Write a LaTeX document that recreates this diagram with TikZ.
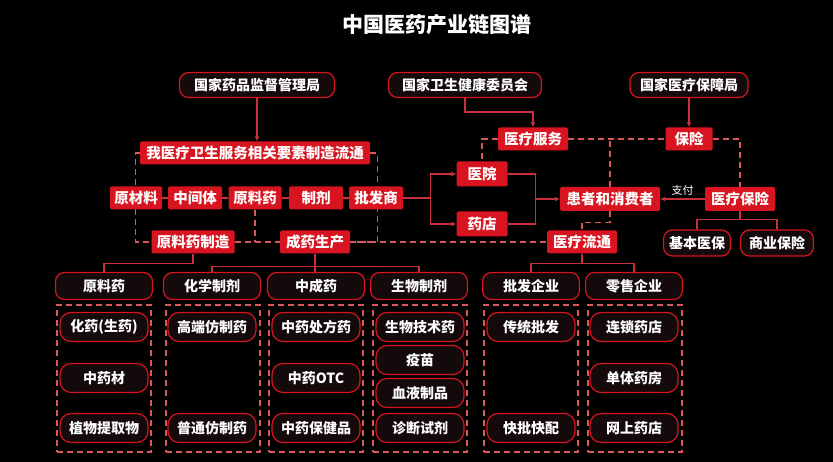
\documentclass[tikz,border=0pt]{standalone}
\usepackage{fontspec}
\setmainfont{Noto Sans CJK SC}
\usetikzlibrary{positioning}
\usetikzlibrary{arrows.meta}
\pgfdeclarelayer{bg}
\pgfsetlayers{bg,main}
\definecolor{hired}{HTML}{D7141F}
\definecolor{linered}{HTML}{C9303A}
\definecolor{dashred}{HTML}{D9585C}
\definecolor{darkfill}{HTML}{140A0B}
\tikzset{
	redbox/.style={fill=hired, text=white, font=\bfseries\fontsize{14.5}{16}\selectfont, inner sep=0pt, minimum height=23, rounded corners=1.5},
	roundbox/.style={draw=hired, line width=1.2pt, fill=darkfill, text=white, font=\bfseries\fontsize{14}{16}\selectfont, inner sep=0pt, rounded corners=9},
	catbox/.style={roundbox, minimum width=97, minimum height=27},
	itembox/.style={roundbox, minimum width=88, minimum height=29, rounded corners=11},
	groupbox/.style={draw=dashred, line width=1.2pt, dash pattern=on 6pt off 4pt, minimum width=94, minimum height=147, inner sep=0pt},
	link/.style={draw=linered, line width=1.2pt},
	dlink/.style={draw=dashred, line width=1.2pt, dash pattern=on 6pt off 4pt},
	arr/.style={link, -{Latex[length=5pt,width=5pt]}}
}

\begin{document}
\begin{tikzpicture}[x=1pt, y=-1pt]
	\useasboundingbox (0,0) rectangle (833,462);
	\node [text=white, font=\bfseries\fontsize{21}{24}\selectfont] (title) at (437,25) {中国医药产业链图谱};

	\node [roundbox, minimum width=155, minimum height=25] (nmpa) at (257,85) {国家药品监督管理局};
	\node [roundbox, minimum width=153, minimum height=25] (nhc) at (465,85) {国家卫生健康委员会};
	\node [roundbox, minimum width=118, minimum height=25] (nhsa) at (689,85) {国家医疗保障局};

	\node [redbox, minimum width=230] (chain) at (255,153) {我医疗卫生服务相关要素制造流通};
	\node [redbox, minimum width=70] (service) at (533,139) {医疗服务};
	\node [redbox, minimum width=47] (insure) at (689,139) {保险};
	\node [redbox, minimum width=52] (rawmat) at (136,198) {原材料};
	\node [redbox, minimum width=54] (inter) at (195,198) {中间体};
	\node [redbox, minimum width=53] (api) at (255,198) {原料药};
	\node [redbox, minimum width=54] (prep) at (316,198) {制剂};
	\node [redbox, minimum width=54] (whole) at (376,198) {批发商};
	\node [redbox, minimum width=51, minimum height=25] (hosp) at (482,174) {医院};
	\node [redbox, minimum width=51, minimum height=25] (pharm) at (482,224) {药店};
	\node [redbox, minimum width=100, minimum height=24] (patient) at (610,199) {患者和消费者};
	\node [redbox, minimum width=70, minimum height=24] (medins) at (740,199) {医疗保险};
	\node [redbox, minimum width=83] (apimake) at (193,242) {原料药制造};
	\node [redbox, minimum width=70] (drugmake) at (315,242) {成药生产};
	\node [redbox, minimum width=70] (circ) at (582,242) {医疗流通};
	\node [roundbox, minimum width=67, minimum height=26] (basic) at (697,243) {基本医保};
	\node [roundbox, minimum width=73, minimum height=26] (commer) at (777,243) {商业保险};

	\node [catbox] (catapi) at (104,286) {原料药};
	\node [catbox] (catchem) at (212,286) {化学制剂};
	\node [catbox] (cattcm) at (316,286) {中成药};
	\node [catbox] (catbio) at (419,286) {生物制剂};
	\node [catbox] (catwhole) at (531,286) {批发企业};
	\node [catbox] (catretail) at (634,286) {零售企业};

	\node [groupbox] (grpapi) at (104,378.5) {};
	\node [groupbox] (grpchem) at (213,378.5) {};
	\node [groupbox] (grptcm) at (316,378.5) {};
	\node [groupbox] (grpbio) at (420,378.5) {};
	\node [groupbox] (grpwhole) at (531,378.5) {};
	\node [groupbox] (grpretail) at (635,378.5) {};

	\node [itembox] (chemdrug) at (104,327) {化药(生药)};
	\node [itembox] (herb) at (104,378) {中药材};
	\node [itembox] (extract) at (104,428) {植物提取物};
	\node [itembox] (hiendgen) at (212,327) {高端仿制药};
	\node [itembox] (commgen) at (212,428) {普通仿制药};
	\node [itembox] (tcmrx) at (316,327) {中药处方药};
	\node [itembox] (tcmotc) at (316,378) {中药OTC};
	\node [itembox] (tcmhealth) at (316,428) {中药保健品};
	\node [itembox] (biotech) at (420,327) {生物技术药};
	\node [itembox] (vaccine) at (420,360) {疫苗};
	\node [itembox] (blood) at (420,393) {血液制品};
	\node [itembox] (diag) at (420,428) {诊断试剂};
	\node [itembox] (tradwhole) at (531,327) {传统批发};
	\node [itembox] (fastwhole) at (531,428) {快批快配};
	\node [itembox] (chainstore) at (634,327) {连锁药店};
	\node [itembox] (singlestore) at (634,378) {单体药房};
	\node [itembox] (onlinestore) at (634,428) {网上药店};

	\begin{pgfonlayer}{bg}
		\fill [black] (0,0) rectangle (833,462);
		\draw [arr] (nmpa.south) -- (nmpa.south |- chain.north);
		\draw [arr] (nhc.south) -- ++(0,14) -| (service.north);
		\draw [arr] (nhsa) -- (insure);
		\draw [link] (rawmat) -- (inter) -- (api) -- (prep) -- (whole);
		\draw [link] (whole.east) -- ++(27,0) coordinate (split);
		\draw [arr] (split) |- (hosp.west);
		\draw [arr] (split) |- (pharm.west);
		\draw [link] (hosp.east) -- ++(28,0) coordinate (join) |- (pharm.east);
		\draw [arr] (join |- patient.west) -- (patient.west);
		\draw [arr] (medins) -- node [above, text=white, font=\fontsize{11}{12}\selectfont] (pay) {支付} (patient);
		\draw [link] (medins.south) -- ++(0,9);
		\draw [link] (basic.north) -- ++(0,-10) -| (commer.north);
		\draw [link] (apimake.south) -- ++(0,10) -| (catapi.north);
		\draw [link] (drugmake.south) -- (drugmake.south |- cattcm.north);
		\draw [link] (catchem.north) -- ++(0,-5) -| (catbio.north);
		\draw [link] (circ.south) -- ++(0,10.5);
		\draw [link] (catwhole.north) -- ++(0,-8) -| (catretail.north);
		\draw [dlink] (chain.west) -- ++(-4,0) |- (apimake.west);
		\draw [dlink] (chain.east) -- ++(7,0) |- (drugmake.east);
		\draw [dlink] (apimake) -- (drugmake);
		\draw [dlink] (drugmake) -- (circ);
		\draw [dlink] (api.south) -- (api.south |- apimake.east);
		\draw [dlink] (service.west) -| (hosp.north);
		\draw [dlink] (service) -- (insure);
		\draw [dlink] (patient.north) -- (patient.north |- service.east);
		\draw [dlink] (insure.east) -| (medins.north);
		\draw [dlink] (patient.south) -- ++(0,11) -| (circ.north);
	\end{pgfonlayer}
\end{tikzpicture}
\end{document}
